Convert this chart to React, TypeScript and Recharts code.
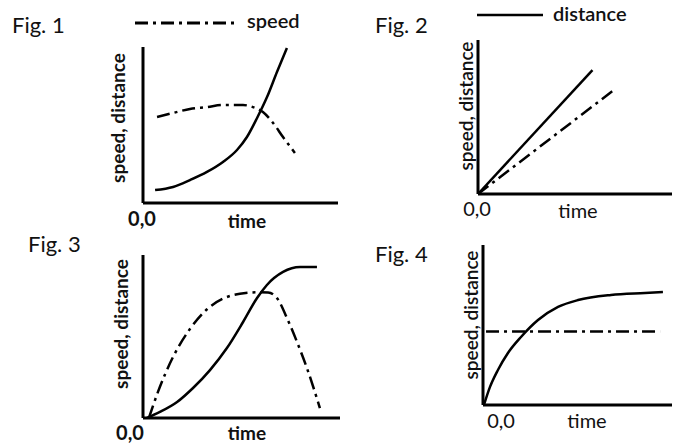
import React from "react";
import { LineChart, Line, XAxis, YAxis } from "recharts";

// ---- data (abstract units, both axes 0..10) ----
const fig1DistanceTime = [0.62, 1.54, 2.41, 3.28, 4.1, 4.82, 5.33, 5.85, 6.36, 6.87, 7.38];
const fig1Distance = [0.83, 1.03, 1.47, 1.99, 2.63, 3.4, 4.23, 5.45, 6.79, 8.4, 9.94];
const fig1SpeedTime = [0.72, 1.54, 2.41, 3.28, 4.1, 5.13, 5.64, 6.15, 6.67, 7.18, 7.79];
const fig1Speed = [5.51, 5.77, 6.03, 6.15, 6.28, 6.28, 6.15, 5.83, 5.13, 4.23, 3.21];

const fig2DistanceTime = [0, 5.9];
const fig2Distance = [0, 8.05];
const fig2SpeedTime = [0, 7.0];
const fig2Speed = [0, 6.75];

const fig3DistanceTime = [0.2, 0.86, 1.73, 2.54, 3.4, 4.26, 5.08, 5.79, 6.29, 7.11, 7.97, 8.83];
const fig3Distance = [0.0, 0.37, 0.98, 1.84, 2.94, 4.29, 5.89, 7.36, 8.16, 8.96, 9.26, 9.26];
const fig3SpeedTime = [0.3, 0.76, 1.52, 2.39, 3.25, 4.06, 4.92, 5.84, 6.35, 6.8, 7.31, 7.82, 8.32, 8.98];
const fig3Speed = [0.0, 1.6, 3.73, 5.47, 6.67, 7.32, 7.62, 7.71, 7.7, 7.36, 6.13, 4.66, 3.07, 0.61];

const fig4DistanceTime = [0.05, 0.37, 0.79, 1.32, 2.01, 2.91, 3.97, 5.03, 6.77, 8.57, 9.52];
const fig4Distance = [0.0, 1.13, 2.19, 3.25, 4.25, 5.31, 6.13, 6.56, 6.88, 7.0, 7.06];
const fig4SpeedTime = [0.16, 9.37];
const fig4Speed = [4.6, 4.6];

const figLabels = ["Fig. 1", "Fig. 2", "Fig. 3", "Fig. 4"];
const xLabel = "time";
const yLabel = "speed, distance";
const originLabel = "0,0";
const legendSpeed = "speed";
const legendDistance = "distance";

const zip = (t: number[], v: number[]) => t.map((x, i) => ({ t: x, v: v[i] }));

const DASH = "13 5 3 5";
const FONT = "Lato, 'Open Sans', sans-serif";

type PanelProps = {
  left: number; top: number; w: number; h: number;
  distance: { t: number; v: number }[];
  speed: { t: number; v: number }[];
  curve: "monotone" | "linear";
  speedCurve: "monotone" | "linear";
};

const M = 6;

function Panel({ left, top, w, h, distance, speed, curve, speedCurve }: PanelProps) {
  return (
    <div style={{ position: "absolute", left: left - M, top: top - M }}>
      <LineChart width={w + 2 * M} height={h + 2 * M} margin={{ top: M, right: M, bottom: 0, left: 0 }}>
        <XAxis type="number" dataKey="t" domain={[0, 10]} height={M} tick={false} tickLine={false}
          axisLine={{ stroke: "#000", strokeWidth: 3 }} allowDataOverflow />
        <YAxis type="number" dataKey="v" domain={[0, 10]} width={M} tick={false} tickLine={false}
          axisLine={{ stroke: "#000", strokeWidth: 3 }} allowDataOverflow />
        <Line data={distance} dataKey="v" type={curve} stroke="#000" strokeWidth={2.5}
          dot={false} isAnimationActive={false} />
        <Line data={speed} dataKey="v" type={speedCurve} stroke="#000" strokeWidth={2.5}
          strokeDasharray={DASH} dot={false} isAnimationActive={false} />
      </LineChart>
    </div>
  );
}

export default function App() {
  const bold = { fontFamily: FONT, fontWeight: 700, fontSize: 19, fill: "#111" } as const;
  const reg = { fontFamily: FONT, fontWeight: 400, fontSize: 20, fill: "#111" } as const;
  const semi = { fontFamily: FONT, fontWeight: 600, fontSize: 19, fill: "#111" } as const;
  return (
    <div style={{ position: "absolute", left: 0, top: 0, width: 673, height: 443, background: "#fff", overflow: "hidden" }}>
      <Panel left={143} top={47} w={195} h={156} distance={zip(fig1DistanceTime, fig1Distance)}
        speed={zip(fig1SpeedTime, fig1Speed)} curve="monotone" speedCurve="monotone" />
      <Panel left={478} top={40} w={194} h={154} distance={zip(fig2DistanceTime, fig2Distance)}
        speed={zip(fig2SpeedTime, fig2Speed)} curve="linear" speedCurve="linear" />
      <Panel left={143} top={255} w={197} h={163} distance={zip(fig3DistanceTime, fig3Distance)}
        speed={zip(fig3SpeedTime, fig3Speed)} curve="monotone" speedCurve="monotone" />
      <Panel left={483} top={245} w={189} h={160} distance={zip(fig4DistanceTime, fig4Distance)}
        speed={zip(fig4SpeedTime, fig4Speed)} curve="monotone" speedCurve="linear" />
      <svg width={673} height={443} style={{ position: "absolute", left: 0, top: 0, pointerEvents: "none" }}>
        <text x={12} y={33} style={{ ...reg, fontSize: 22 }}>{figLabels[0]}</text>
        <text x={375} y={33} style={{ ...reg, fontSize: 22 }}>{figLabels[1]}</text>
        <text x={28} y={252} style={{ ...reg, fontSize: 22 }}>{figLabels[2]}</text>
        <text x={375} y={262} style={{ ...reg, fontSize: 22 }}>{figLabels[3]}</text>

        {/* legends */}
        <line x1={135} y1={23} x2={235} y2={23} stroke="#000" strokeWidth={3} strokeDasharray={DASH} />
        <text x={247} y={28} style={{ ...semi, fontSize: 20 }}>{legendSpeed}</text>
        <line x1={477} y1={15} x2={543} y2={15} stroke="#000" strokeWidth={2.5} />
        <text x={553} y={21} style={{ ...semi, fontSize: 20 }}>{legendDistance}</text>

        {/* origin labels */}
        <text x={142} y={226} textAnchor="middle" style={{ ...bold, fontSize: 20 }}>{originLabel}</text>
        <text x={477} y={216} textAnchor="middle" style={reg}>{originLabel}</text>
        <text x={130} y={440} textAnchor="middle" style={{ ...bold, fontSize: 20 }}>{originLabel}</text>
        <text x={501} y={428} textAnchor="middle" style={reg}>{originLabel}</text>

        {/* x labels */}
        <text x={247} y={228} textAnchor="middle" style={bold}>{xLabel}</text>
        <text x={578} y={218} textAnchor="middle" style={reg}>{xLabel}</text>
        <text x={247} y={440} textAnchor="middle" style={bold}>{xLabel}</text>
        <text x={587} y={428} textAnchor="middle" style={reg}>{xLabel}</text>

        {/* y labels */}
        <text x={117} y={118} textAnchor="middle" dominantBaseline="central" transform="rotate(-90 117 118)" style={bold}>{yLabel}</text>
        <text x={465} y={106} textAnchor="middle" dominantBaseline="central" transform="rotate(-90 465 106)" style={semi}>{yLabel}</text>
        <text x={120} y={324} textAnchor="middle" dominantBaseline="central" transform="rotate(-90 120 324)" style={bold}>{yLabel}</text>
        <text x={470} y={315} textAnchor="middle" dominantBaseline="central" transform="rotate(-90 470 315)" style={semi}>{yLabel}</text>
      </svg>
    </div>
  );
}
